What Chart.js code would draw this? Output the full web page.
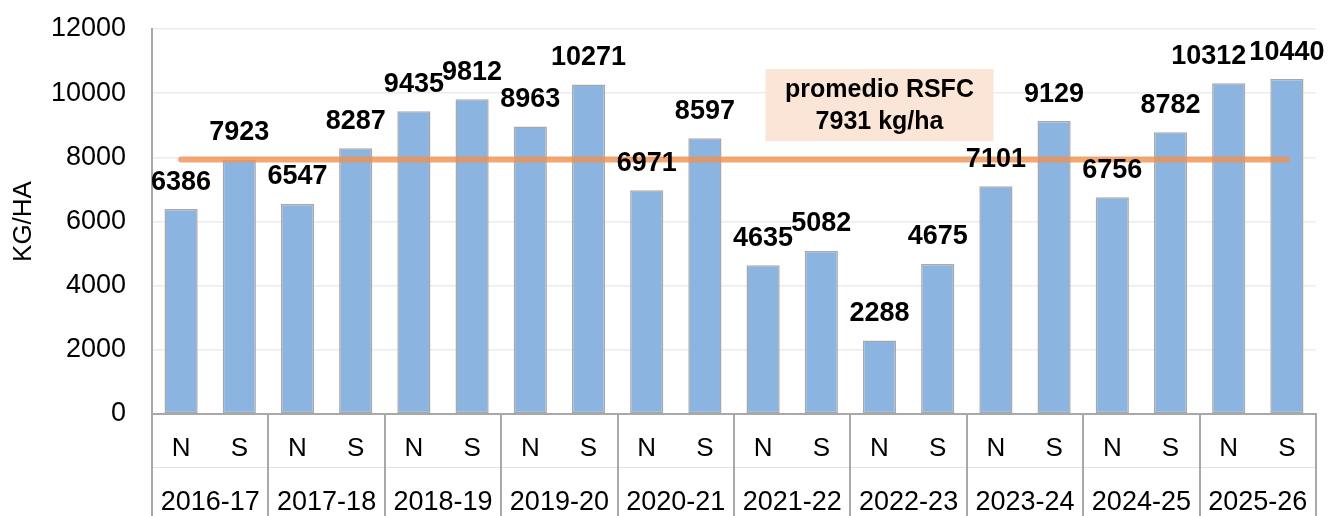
<!DOCTYPE html>
<html>
<head>
<meta charset="utf-8">
<script src="https://cdn.jsdelivr.net/npm/chart.js@4.4.1/dist/chart.umd.min.js"></script>
<style>
  html, body { margin: 0; padding: 0; background: #fff; }
  #wrap { width: 1328px; height: 516px; position: relative; }
</style>
</head>
<body>
<div id="wrap"><canvas id="chart"></canvas></div>
<script>
const seasons = ["2016-17", "2017-18", "2018-19", "2019-20", "2020-21", "2021-22", "2022-23", "2023-24", "2024-25", "2025-26"];
const halves = ["N", "S"];
const yieldKgHa = [6386, 7923, 6547, 8287, 9435, 9812, 8963, 10271, 6971, 8597, 4635, 5082, 2288, 4675, 7101, 9129, 6756, 8782, 10312, 10440];
const averageKgHa = 7931;
const noteLines = ["promedio RSFC", "7931 kg/ha"];
const yTicks = [0, 2000, 4000, 6000, 8000, 10000, 12000];

// small manual nudges for crowded value labels (px)
const labelShiftX = [0, 0, 0, 0, 0, 0, 0, 0, 0, 0, 0, 0, 0, 0, 0, 0, 0, 0, -20, 0];

const FONT = "\"Liberation Sans\", Arial, sans-serif";
const GRAY = "#a8a8a8";

const labels = [];
seasons.forEach((s) => halves.forEach((h) => labels.push(h + " " + s)));

Chart.register({
  id: "valueLabels",
  afterDatasetsDraw(chart) {
    const ctx = chart.ctx;
    const meta = chart.getDatasetMeta(0);
    ctx.save();
    ctx.font = `bold 27px ${FONT}`;
    ctx.fillStyle = "#000";
    ctx.textAlign = "center";
    ctx.textBaseline = "middle";
    meta.data.forEach((bar, i) => {
      ctx.fillText(String(yieldKgHa[i]), bar.x + labelShiftX[i], bar.y - 27);
    });

    // average note box
    const xs = chart.scales.x;
    const ys = chart.scales.y;
    const cx = xs.getPixelForValue(12);
    const cy = ys.getPixelForValue(9630);
    ctx.fillStyle = "#fbe5d6";
    ctx.fillRect(cx - 114, cy - 36, 228, 72);
    ctx.fillStyle = "#000";
    ctx.font = `bold 25px ${FONT}`;
    ctx.fillText(noteLines[0], cx, cy - 15);
    ctx.fillText(noteLines[1], cx, cy + 17);
    ctx.restore();
  }
});

Chart.register({
  id: "twoLevelAxis",
  afterDraw(chart) {
    const ctx = chart.ctx;
    const xs = chart.scales.x;
    const area = chart.chartArea;
    const step = (area.right - area.left) / labels.length;
    const top = area.bottom;
    const bottom = chart.height;
    ctx.save();
    // faint row divider
    ctx.strokeStyle = "#e2e2e2";
    ctx.lineWidth = 1;
    ctx.beginPath();
    ctx.moveTo(area.left, top + 53.5);
    ctx.lineTo(area.right, top + 53.5);
    ctx.stroke();
    // group separators
    ctx.strokeStyle = GRAY;
    ctx.lineWidth = 2;
    for (let g = 0; g <= seasons.length; g++) {
      const x = Math.round(area.left + g * 2 * step);
      ctx.beginPath();
      ctx.moveTo(x, top);
      ctx.lineTo(x, bottom);
      ctx.stroke();
    }
    ctx.fillStyle = "#000";
    ctx.textAlign = "center";
    ctx.textBaseline = "middle";
    ctx.font = `26px ${FONT}`;
    labels.forEach((lab, i) => {
      ctx.fillText(halves[i % 2], xs.getPixelForValue(i), top + 35);
    });
    ctx.font = `27px ${FONT}`;
    seasons.forEach((s, g) => {
      const x = (xs.getPixelForValue(g * 2) + xs.getPixelForValue(g * 2 + 1)) / 2;
      ctx.fillText(s, x, top + 89);
    });
    ctx.restore();
  }
});

new Chart(document.getElementById("chart"), {
  type: "bar",
  data: {
    labels,
    datasets: [
      {
        label: "KG/HA",
        data: yieldKgHa,
        backgroundColor: "#8bb5e0",
        borderColor: GRAY,
        borderWidth: 1.5,
        borderSkipped: false,
        categoryPercentage: 1,
        barPercentage: 0.57,
        order: 2
      },
      {
        type: "line",
        label: "promedio",
        data: labels.map(() => averageKgHa),
        borderColor: "rgba(240,145,80,0.8)",
        borderWidth: 6,
        borderCapStyle: "round",
        pointRadius: 0,
        order: 1
      }
    ]
  },
  options: {
    responsive: true,
    maintainAspectRatio: false,
    animation: false,
    layout: { padding: { top: 29, right: 12, bottom: 0, left: 0 } },
    plugins: {
      legend: { display: false },
      tooltip: { enabled: false }
    },
    scales: {
      x: {
        ticks: { display: false },
        grid: { display: false },
        border: { color: GRAY, width: 2 },
        afterFit: (s) => { s.height = 102; }
      },
      y: {
        min: 0,
        max: 12000,
        afterBuildTicks: (s) => { s.ticks = yTicks.map((v) => ({ value: v })); },
        ticks: {
          color: "#000",
          padding: 26,
          font: { family: FONT, size: 27 },
          callback: (v) => String(v)
        },
        grid: { color: "#ececec", lineWidth: 1.5, drawTicks: false },
        border: { color: GRAY, width: 2 },
        title: {
          display: true,
          text: "KG/HA",
          color: "#000",
          padding: { top: 8, bottom: 0 },
          font: { family: FONT, size: 26 }
        },
        afterFit: (s) => {
          s.width = 152;
          s.paddingTop = 0;
          s.paddingBottom = 0;
        }
      }
    }
  }
});
</script>
</body>
</html>
